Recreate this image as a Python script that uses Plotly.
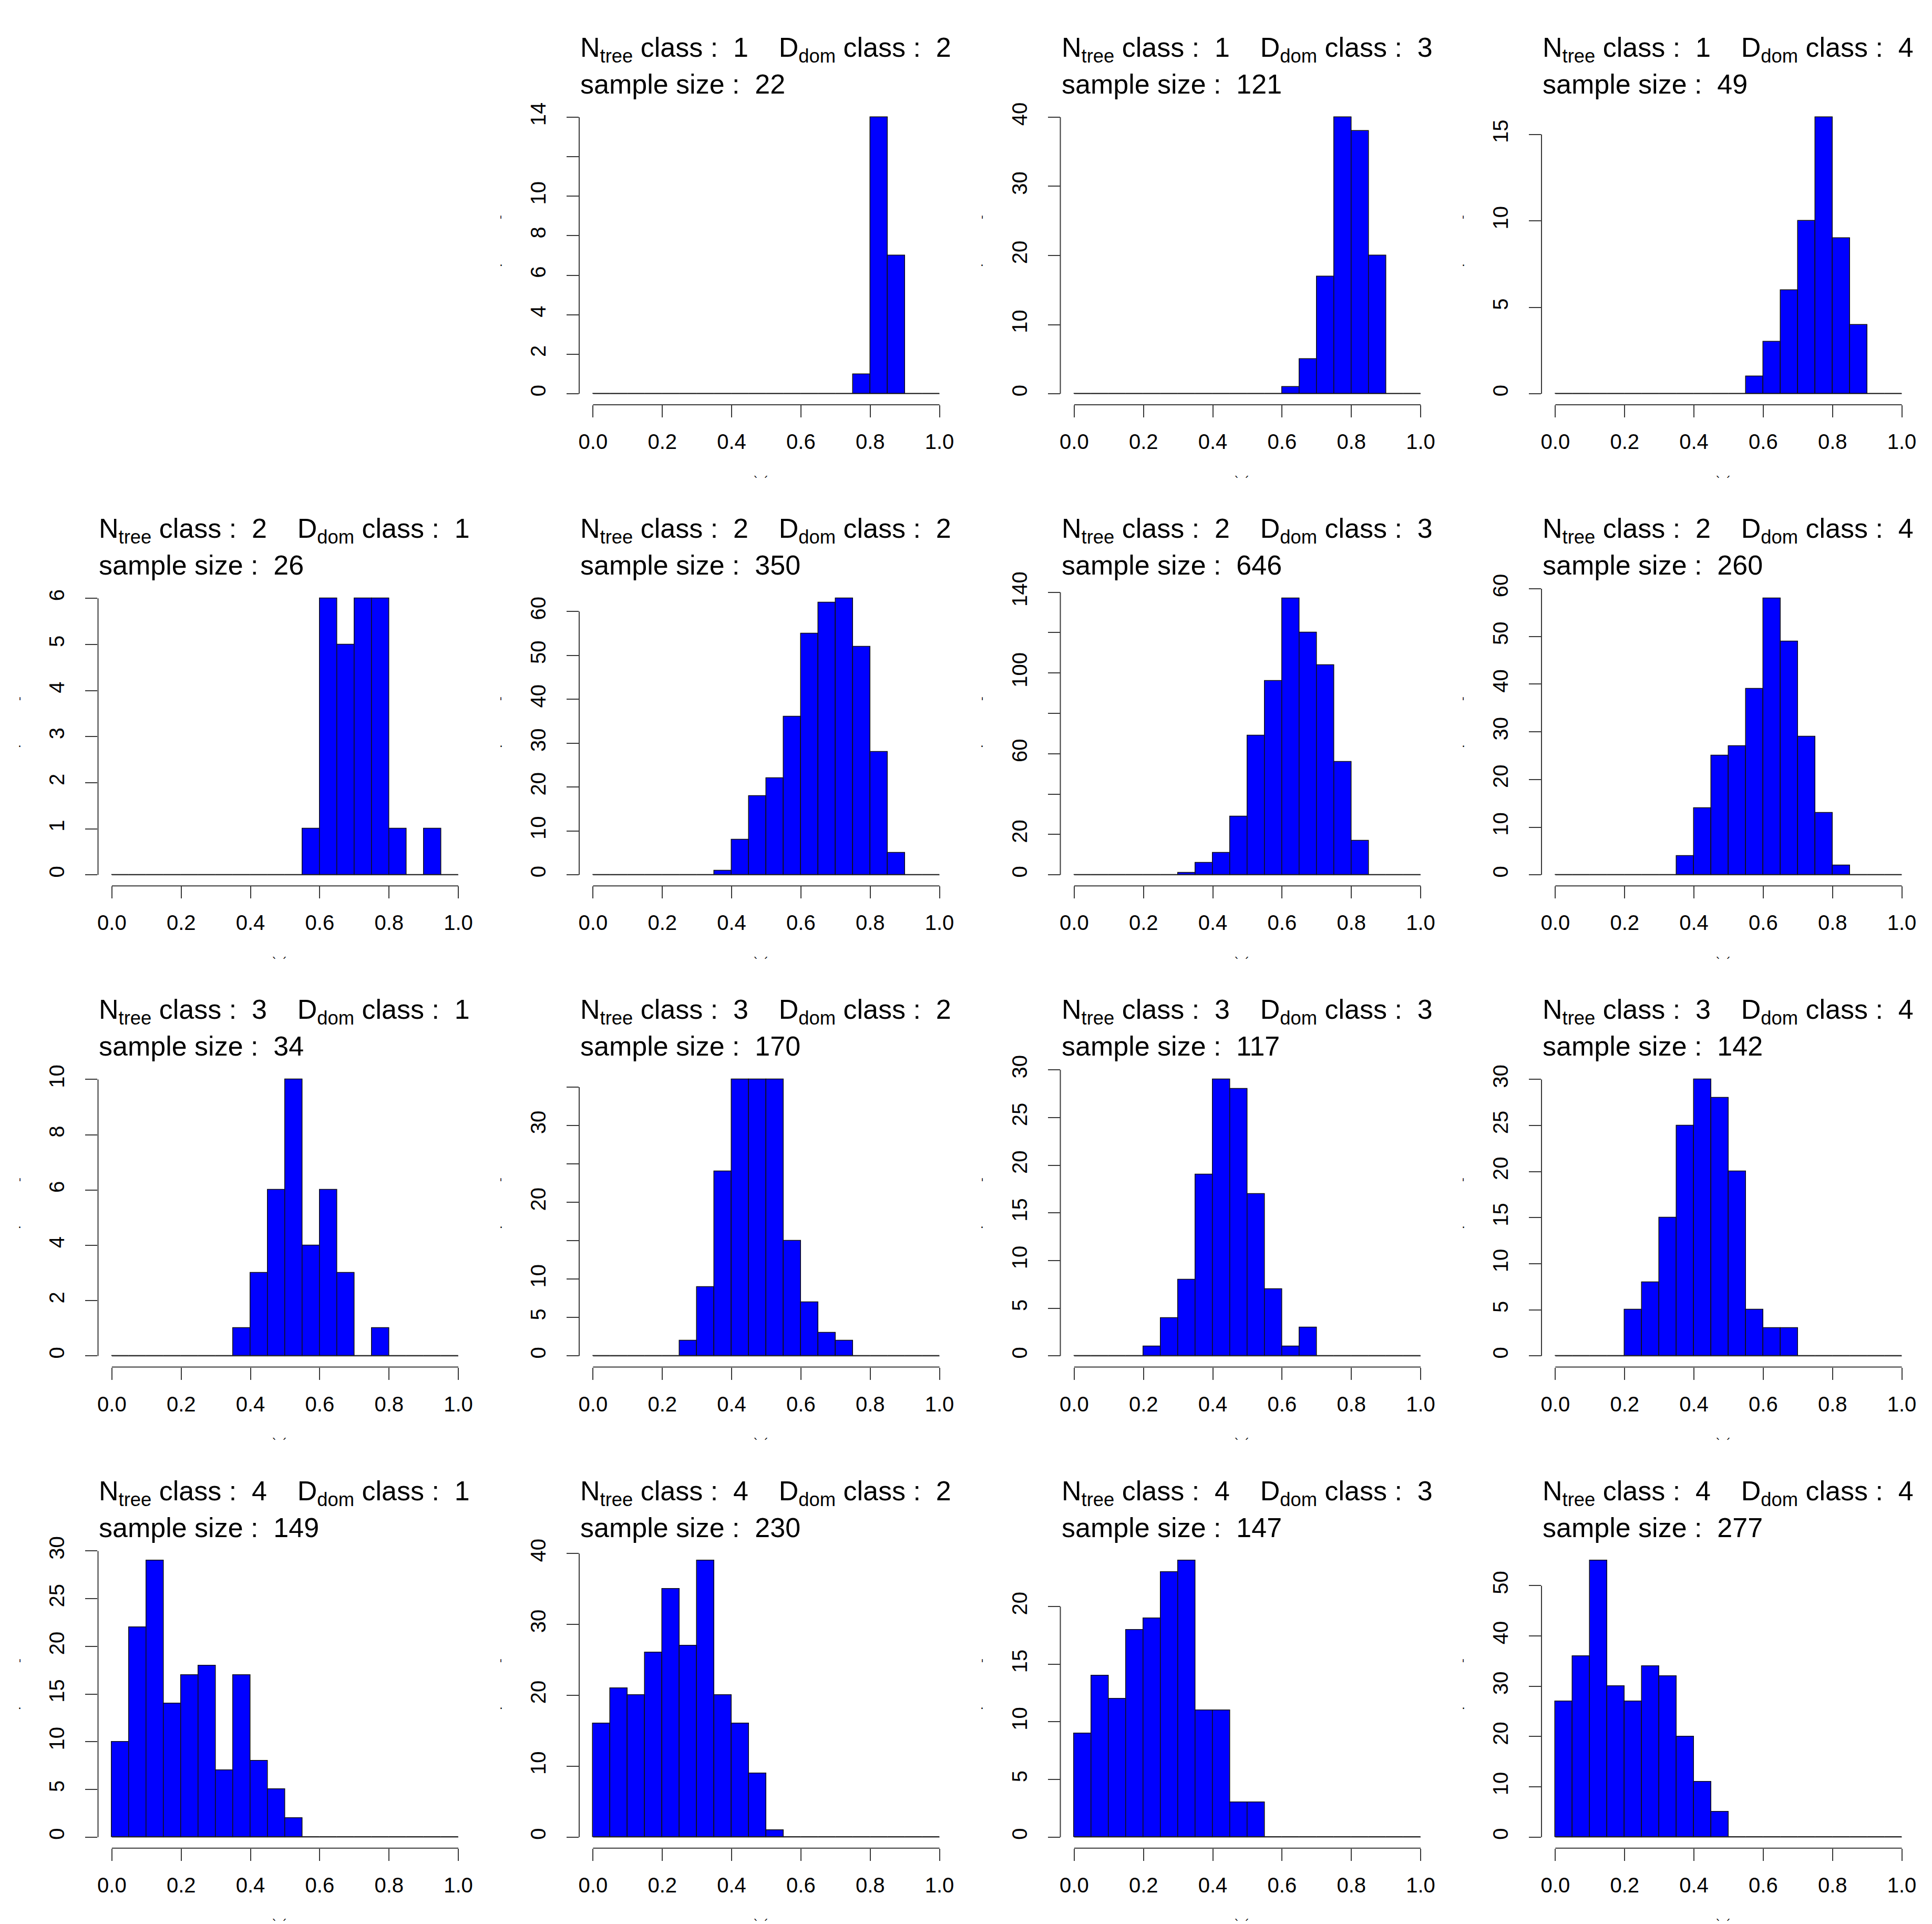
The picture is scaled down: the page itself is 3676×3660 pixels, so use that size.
import plotly.graph_objects as go

# --- bins (shared by every histogram) ---
bin_edges = [0.0, 0.05, 0.1, 0.15, 0.2, 0.25, 0.3, 0.35, 0.4, 0.45, 0.5,
             0.55, 0.6, 0.65, 0.7, 0.75, 0.8, 0.85, 0.9, 0.95, 1.0]
x_ticks = [0.0, 0.2, 0.4, 0.6, 0.8, 1.0]
x_ticklabels = ['0.0', '0.2', '0.4', '0.6', '0.8', '1.0']

# --- counts per bin, panel (Ntree class, Ddom class) ---
counts_1_2 = [0, 0, 0, 0, 0, 0, 0, 0, 0, 0, 0, 0, 0, 0, 0, 1, 14, 7, 0, 0]
counts_1_3 = [0, 0, 0, 0, 0, 0, 0, 0, 0, 0, 0, 0, 1, 5, 17, 40, 38, 20, 0, 0]
counts_1_4 = [0, 0, 0, 0, 0, 0, 0, 0, 0, 0, 0, 1, 3, 6, 10, 16, 9, 4, 0, 0]
counts_2_1 = [0, 0, 0, 0, 0, 0, 0, 0, 0, 0, 0, 1, 6, 5, 6, 6, 1, 0, 1, 0]
counts_2_2 = [0, 0, 0, 0, 0, 0, 0, 1, 8, 18, 22, 36, 55, 62, 63, 52, 28, 5, 0, 0]
counts_2_3 = [0, 0, 0, 0, 0, 0, 1, 6, 11, 29, 69, 96, 137, 120, 104, 56, 17, 0, 0, 0]
counts_2_4 = [0, 0, 0, 0, 0, 0, 0, 4, 14, 25, 27, 39, 58, 49, 29, 13, 2, 0, 0, 0]
counts_3_1 = [0, 0, 0, 0, 0, 0, 0, 1, 3, 6, 10, 4, 6, 3, 0, 1, 0, 0, 0, 0]
counts_3_2 = [0, 0, 0, 0, 0, 2, 9, 24, 36, 36, 36, 15, 7, 3, 2, 0, 0, 0, 0, 0]
counts_3_3 = [0, 0, 0, 0, 1, 4, 8, 19, 29, 28, 17, 7, 1, 3, 0, 0, 0, 0, 0, 0]
counts_3_4 = [0, 0, 0, 0, 5, 8, 15, 25, 30, 28, 20, 5, 3, 3, 0, 0, 0, 0, 0, 0]
counts_4_1 = [10, 22, 29, 14, 17, 18, 7, 17, 8, 5, 2, 0, 0, 0, 0, 0, 0, 0, 0, 0]
counts_4_2 = [16, 21, 20, 26, 35, 27, 39, 20, 16, 9, 1, 0, 0, 0, 0, 0, 0, 0, 0, 0]
counts_4_3 = [9, 14, 12, 18, 19, 23, 24, 11, 11, 3, 3, 0, 0, 0, 0, 0, 0, 0, 0, 0]
counts_4_4 = [27, 36, 55, 30, 27, 34, 32, 20, 11, 5, 0, 0, 0, 0, 0, 0, 0, 0, 0, 0]

# --- y ticks per panel ('' = tick drawn but label dropped, like R does) ---
yticks_1_2 = [0, 2, 4, 6, 8, 10, 12, 14]
ylabels_1_2 = ['0', '2', '4', '6', '8', '10', '', '14']
yticks_1_3 = [0, 10, 20, 30, 40]
yticks_1_4 = [0, 5, 10, 15]
yticks_2_1 = [0, 1, 2, 3, 4, 5, 6]
yticks_2_2 = [0, 10, 20, 30, 40, 50, 60]
yticks_2_3 = [0, 20, 40, 60, 80, 100, 120, 140]
ylabels_2_3 = ['0', '20', '', '60', '', '100', '', '140']
yticks_2_4 = [0, 10, 20, 30, 40, 50, 60]
yticks_3_1 = [0, 2, 4, 6, 8, 10]
yticks_3_2 = [0, 5, 10, 15, 20, 25, 30, 35]
ylabels_3_2 = ['0', '5', '10', '', '20', '', '30', '']
yticks_3_3 = [0, 5, 10, 15, 20, 25, 30]
yticks_3_4 = [0, 5, 10, 15, 20, 25, 30]
yticks_4_1 = [0, 5, 10, 15, 20, 25, 30]
yticks_4_2 = [0, 10, 20, 30, 40]
yticks_4_3 = [0, 5, 10, 15, 20]
yticks_4_4 = [0, 10, 20, 30, 40, 50]

# (ntree class, ddom class, counts, yticks, ylabels)
panels = [
    (1, 2, counts_1_2, yticks_1_2, ylabels_1_2),
    (1, 3, counts_1_3, yticks_1_3, None),
    (1, 4, counts_1_4, yticks_1_4, None),
    (2, 1, counts_2_1, yticks_2_1, None),
    (2, 2, counts_2_2, yticks_2_2, None),
    (2, 3, counts_2_3, yticks_2_3, ylabels_2_3),
    (2, 4, counts_2_4, yticks_2_4, None),
    (3, 1, counts_3_1, yticks_3_1, None),
    (3, 2, counts_3_2, yticks_3_2, ylabels_3_2),
    (3, 3, counts_3_3, yticks_3_3, None),
    (3, 4, counts_3_4, yticks_3_4, None),
    (4, 1, counts_4_1, yticks_4_1, None),
    (4, 2, counts_4_2, yticks_4_2, None),
    (4, 3, counts_4_3, yticks_4_3, None),
    (4, 4, counts_4_4, yticks_4_4, None),
]

W, H = 3676, 3660
FONT = 'Liberation Sans, Arial, sans-serif'
AXCOL = '#3a3a3a'
COL_STEP, ROW_STEP = 916, 915
PLOT_LEFT, PLOT_W = 185.6, 712.3
PLOT_TOP, PLOT_BOT = 196, 764
# vertical placement correction measured on earlier renders of this page
Y_SCALE, Y_SHIFT = 1.0085, -24.3


def py(ref_y):
    # pixel row in the reference -> paper fraction
    return 1 - (Y_SCALE * ref_y + Y_SHIFT) / H


centers = [(bin_edges[i] + bin_edges[i + 1]) / 2 for i in range(len(bin_edges) - 1)]
widths = [bin_edges[i + 1] - bin_edges[i] for i in range(len(bin_edges) - 1)]

fig = go.Figure()
shapes = []
annotations = []

for k, (nt, dd, counts, yticks, ylabels) in enumerate(panels, start=1):
    r, c = nt - 1, dd - 1
    xs = '' if k == 1 else str(k)
    left = c * COL_STEP + PLOT_LEFT
    right = left + PLOT_W
    top = r * ROW_STEP + PLOT_TOP
    bot = r * ROW_STEP + PLOT_BOT
    ymax = max(counts)

    fig.add_trace(go.Bar(
        x=centers, y=counts, width=widths,
        marker=dict(color='#0000FF', line=dict(color='#111111', width=1.5)),
        xaxis='x' + xs, yaxis='y' + xs, showlegend=False, hoverinfo='x+y'
    ))

    fig.layout['xaxis' + xs] = dict(
        domain=[left / W, right / W], anchor='y' + xs, range=[-0.04, 1.04],
        tickvals=x_ticks, ticktext=x_ticklabels, ticks='outside', ticklen=23,
        tickwidth=2, tickcolor=AXCOL, showline=False, showgrid=False, zeroline=False,
        tickfont=dict(family=FONT, size=40, color='black'), ticklabelstandoff=12
    )
    fig.layout['yaxis' + xs] = dict(
        domain=[py(bot), py(top)], anchor='x' + xs, range=[-0.04 * ymax, 1.04 * ymax],
        tickvals=yticks, ticktext=ylabels if ylabels else [str(v) for v in yticks],
        ticks='outside', ticklen=23, tickwidth=2, tickcolor=AXCOL, tickangle=-90,
        showline=False, showgrid=False, zeroline=False,
        tickfont=dict(family=FONT, size=40, color='black'), ticklabelstandoff=24
    )

    # R-style axis lines: only between first and last tick
    shapes.append(dict(type='line', xref='x' + xs, yref='y' + xs + ' domain',
                       x0=x_ticks[0], x1=x_ticks[-1], y0=0, y1=0,
                       line=dict(color=AXCOL, width=2)))
    shapes.append(dict(type='line', xref='x' + xs + ' domain', yref='y' + xs,
                       x0=0, x1=0, y0=yticks[0], y1=yticks[-1],
                       line=dict(color=AXCOL, width=2)))
    # empty bins drawn as a flat line on zero
    shapes.append(dict(type='line', xref='x' + xs, yref='y' + xs,
                       x0=bin_edges[0], x1=bin_edges[-1], y0=0, y1=0,
                       line=dict(color='#777777', width=2), layer='below'))

    # title (two lines, left aligned on the plot region)
    line1 = (f'N<sub>tree</sub> class :\u00a0 {nt}\u00a0\u00a0\u00a0\u00a0'
             f'D<sub>dom</sub> class :\u00a0 {dd}')
    line2 = f'sample size :\u00a0 {sum(counts)}'
    annotations.append(dict(text=line1, xref='paper', yref='paper',
                            x=left / W, y=py(r * ROW_STEP + 88),
                            xanchor='left', yanchor='middle', showarrow=False,
                            font=dict(family=FONT, size=52, color='black')))
    annotations.append(dict(text=line2, xref='paper', yref='paper',
                            x=left / W, y=py(r * ROW_STEP + 154),
                            xanchor='left', yanchor='middle', showarrow=False,
                            font=dict(family=FONT, size=52, color='black')))
    # clipped axis-title fragments visible at panel edges
    annotations.append(dict(text='\u02cb \u02ca', xref='paper', yref='paper',
                            x=(c * COL_STEP + 1447 - COL_STEP) / W, y=py(r * ROW_STEP + 908),
                            xanchor='center', yanchor='middle', showarrow=False,
                            font=dict(family='DejaVu Sans', size=22, color='black')))
    annotations.append(dict(text='\u02cc', xref='paper', yref='paper',
                            x=(c * COL_STEP + 37) / W, y=py(r * ROW_STEP + 400),
                            xanchor='center', yanchor='middle', showarrow=False,
                            font=dict(family='DejaVu Sans', size=22, color='black')))
    annotations.append(dict(text='.', xref='paper', yref='paper',
                            x=(c * COL_STEP + 37) / W, y=py(r * ROW_STEP + 492),
                            xanchor='center', yanchor='middle', showarrow=False,
                            font=dict(family='DejaVu Sans', size=22, color='black')))

fig.update_layout(
    width=W, height=H,
    margin=dict(l=0, r=0, t=0, b=0),
    paper_bgcolor='white', plot_bgcolor='white',
    bargap=0, shapes=shapes, annotations=annotations,
    showlegend=False
)

fig.write_html("out.html", config={'displayModeBar': False},
               post_script="document.body.style.margin='0';")
